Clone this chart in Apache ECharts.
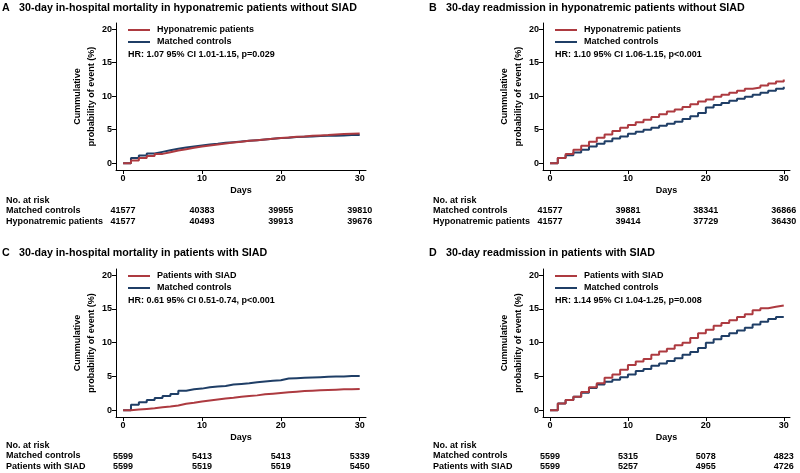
<!DOCTYPE html>
<html><head><meta charset="utf-8">
<script src="https://cdn.jsdelivr.net/npm/echarts@6/dist/echarts.min.js"></script>
<style>html,body{margin:0;padding:0;background:#fff}#c{width:800px;height:473px}</style>
</head><body><div id="c"></div>
<script>
const days = [0,1,2,3,4,5,6,7,8,9,10,11,12,13,14,15,16,17,18,19,20,21,22,23,24,25,26,27,28,29,30];
// Panel A: in-hospital mortality, hyponatremic without SIAD
const aHypo = [0,0.4,0.8,1.1,1.4,1.65,1.9,2.1,2.3,2.5,2.65,2.8,2.95,3.1,3.2,3.35,3.45,3.55,3.65,3.75,3.85,3.95,4.0,4.1,4.15,4.2,4.3,4.35,4.4,4.45,4.5];
const aCtrl = [0,0.8,1.15,1.45,1.7,1.95,2.15,2.35,2.5,2.65,2.8,2.9,3.05,3.15,3.25,3.35,3.45,3.55,3.65,3.75,3.8,3.9,3.95,4.0,4.05,4.1,4.1,4.15,4.2,4.2,4.2];
// Panel B: readmission, hyponatremic without SIAD
const bHypo = [0,0.8,1.4,2.0,2.6,3.2,3.8,4.3,4.8,5.3,5.7,6.1,6.5,6.9,7.3,7.7,8.0,8.4,8.8,9.2,9.5,9.9,10.2,10.5,10.8,11.1,11.3,11.6,11.9,12.2,12.5];
const bCtrl = [0,0.8,1.2,1.6,2.0,2.5,2.9,3.3,3.7,4.0,4.4,4.7,5.0,5.3,5.6,5.9,6.2,6.6,7.0,7.5,8.3,8.7,9.0,9.3,9.6,9.9,10.2,10.5,10.8,11.1,11.4];
// Panel C: in-hospital mortality, SIAD
const cSiad = [0,0.1,0.2,0.3,0.45,0.55,0.7,0.95,1.1,1.3,1.45,1.6,1.75,1.85,2.0,2.1,2.2,2.35,2.45,2.55,2.65,2.75,2.85,2.9,2.95,3.0,3.05,3.1,3.1,3.15,3.2];
const cCtrl = [0,0.8,1.2,1.5,1.8,2.1,2.4,2.9,3.1,3.2,3.4,3.5,3.6,3.8,3.9,4.0,4.15,4.25,4.35,4.45,4.7,4.75,4.8,4.85,4.9,4.95,5.0,5.0,5.05,5.05,5.1];
// Panel D: readmission, SIAD
const dSiad = [0,1.0,1.5,2.0,2.7,3.4,4.0,4.8,5.3,6.0,6.7,7.2,7.6,8.2,8.7,9.1,9.6,10.0,10.7,11.4,11.9,12.5,12.9,13.3,13.8,14.2,14.8,15.1,15.3,15.5,15.6];
const dCtrl = [0,1.0,1.5,2.0,2.6,3.3,3.8,4.2,4.5,4.9,5.3,5.8,6.1,6.6,6.9,7.3,7.7,8.2,8.6,9.2,10.0,10.5,11.0,11.4,11.8,12.2,12.7,13.1,13.5,13.8,13.9];

const xTicks = [0,10,20,30];
const yTicks = [0,5,10,15,20];
const aRiskCtrl = [41577,40383,39955,39810];
const aRiskHypo = [41577,40493,39913,39676];
const bRiskCtrl = [41577,39881,38341,36866];
const bRiskHypo = [41577,39414,37729,36430];
const cRiskCtrl = [5599,5413,5413,5339];
const cRiskSiad = [5599,5519,5519,5450];
const dRiskCtrl = [5599,5315,5078,4823];
const dRiskSiad = [5599,5257,4955,4726];

const titles = [
  '30-day in-hospital mortality in hyponatremic patients without SIAD',
  '30-day readmission in hyponatremic patients without SIAD',
  '30-day in-hospital mortality in patients with SIAD',
  '30-day readmission in patients with SIAD'
];
const letters = ['A','B','C','D'];
const hrTexts = [
  'HR: 1.07 95% CI 1.01-1.15, p=0.029',
  'HR: 1.10 95% CI 1.06-1.15, p<0.001',
  'HR: 0.61 95% CI 0.51-0.74, p<0.001',
  'HR: 1.14 95% CI 1.04-1.25, p=0.008'
];
const ctrlName = 'Matched controls';
const patientNames = ['Hyponatremic patients','Hyponatremic patients','Patients with SIAD','Patients with SIAD'];

const RED = '#ad3a40', BLUE = '#1f3e66';
const FONT = '"Liberation Sans", Arial, Helvetica, sans-serif';

const panels = [
  {grid:{left:116, top:23, width:250, height:147}, pat:aHypo, ctrl:aCtrl, rc:aRiskCtrl, rp:aRiskHypo, ox:0, oy:0, off:[32,43]},
  {grid:{left:543, top:23, width:247, height:147}, pat:bHypo, ctrl:bCtrl, rc:bRiskCtrl, rp:bRiskHypo, ox:427, oy:0, off:[32,43]},
  {grid:{left:116, top:269, width:250, height:148}, pat:cSiad, ctrl:cCtrl, rc:cRiskCtrl, rp:cRiskSiad, ox:0, oy:245, off:[31,41.5]},
  {grid:{left:543, top:269, width:247, height:148}, pat:dSiad, ctrl:dCtrl, rc:dRiskCtrl, rp:dRiskSiad, ox:427, oy:245, off:[31,41.5]}
];

const txt = {color:'#000', fontFamily:FONT, fontWeight:'bold', fontSize:9};
const option = {animation:false, backgroundColor:'#fff', grid:[], xAxis:[], yAxis:[], series:[], legend:[], graphic:[]};

panels.forEach((p, i) => {
  option.grid.push(p.grid);
  const xBase = {
    type:'value', gridIndex:i, min:-0.9, max:30.8, splitLine:{show:false}
  };
  option.xAxis.push(Object.assign({}, xBase, {
    position:'bottom',
    axisLine:{show:true, onZero:false, lineStyle:{color:'#000', width:1}},
    axisTick:{show:true, customValues:xTicks, length:4, lineStyle:{color:'#000'}},
    axisLabel:Object.assign({customValues:xTicks, margin:4}, txt),
    name:'Days', nameLocation:'middle', nameGap:16, nameTextStyle:txt
  }));
  const riskAxis = (arr, off) => Object.assign({}, xBase, {
    position:'bottom', offset:off,
    axisLine:{show:false}, axisTick:{show:false},
    axisLabel:Object.assign({customValues:xTicks, margin:4,
      formatter: v => String(arr[xTicks.indexOf(Math.round(v))])}, txt)
  });
  option.xAxis.push(riskAxis(p.rc, p.off[0]));
  option.xAxis.push(riskAxis(p.rp, p.off[1]));
  option.yAxis.push({
    type:'value', gridIndex:i, min:-1, max:20.9, splitLine:{show:false},
    axisLine:{show:true, onZero:false, lineStyle:{color:'#000', width:1}},
    axisTick:{show:true, customValues:yTicks, length:4, lineStyle:{color:'#000'}},
    axisLabel:Object.assign({customValues:yTicks, margin:4}, txt),
    name:'Cummulative\nprobability of event (%)', nameLocation:'middle', nameGap:15,
    nameTextStyle:Object.assign({lineHeight:14, align:'center'}, txt)
  });
  const xi = i*3;
  option.series.push({
    name:ctrlName, type:'line', step:'end', xAxisIndex:xi, yAxisIndex:i,
    showSymbol:false, color:BLUE, lineStyle:{color:BLUE, width:2},
    data: days.map((d,k) => [d, p.ctrl[k]])
  });
  option.series.push({
    name:patientNames[i], type:'line', step:'end', xAxisIndex:xi, yAxisIndex:i,
    showSymbol:false, color:RED, lineStyle:{color:RED, width:2},
    data: days.map((d,k) => [d, p.pat[k]])
  });
  option.legend.push({
    left:p.grid.left+12, top:p.grid.top+2.5, orient:'vertical', padding:0,
    data:[patientNames[i], ctrlName], icon:'rect', itemWidth:22, itemHeight:2,
    itemGap:3, textStyle:Object.assign({padding:[0,0,0,2]}, txt), selectedMode:false
  });
  const tg = (x, y, s, size) => ({type:'text', x:x, y:y,
    style:{text:s, fill:'#000', font:'bold '+(size||9)+'px '+FONT, textVerticalAlign:'middle', textAlign:'left'}});
  option.graphic.push(tg(p.ox+2, p.oy+8, letters[i], 10.7));
  option.graphic.push(tg(p.ox+19, p.oy+8, titles[i], 10.7));
  option.graphic.push(tg(p.grid.left+12, p.grid.top+32, hrTexts[i], 9));
  option.graphic.push(tg(p.ox+6, p.oy+200.5, 'No. at risk', 9));
  option.graphic.push(tg(p.ox+6, p.oy+211, ctrlName, 9));
  option.graphic.push(tg(p.ox+6, p.oy+221.5, patientNames[i], 9));
});

const chart = echarts.init(document.getElementById('c'), null, {renderer:'canvas'});
chart.setOption(option);
</script></body></html>
